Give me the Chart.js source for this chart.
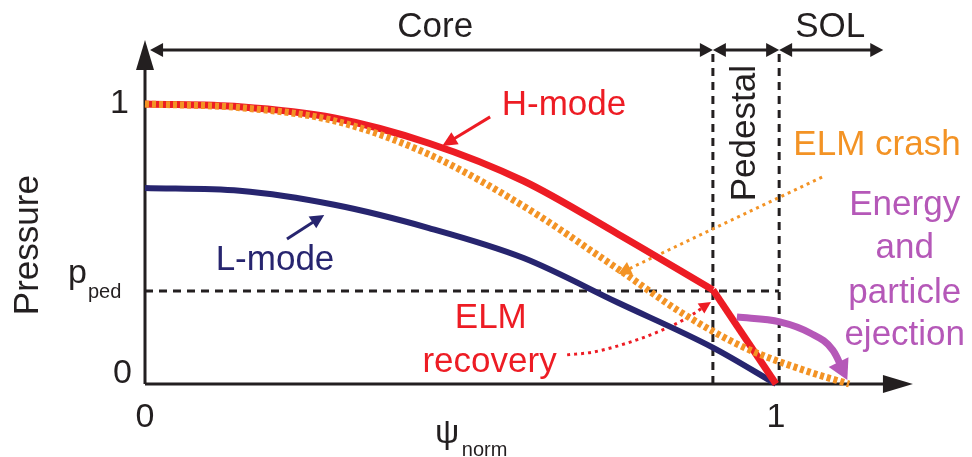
<!DOCTYPE html>
<html><head><meta charset="utf-8">
<script src="https://cdn.jsdelivr.net/npm/chart.js@4.4.0/dist/chart.umd.min.js"></script>
<style>html,body{margin:0;padding:0;background:#fff;}canvas{display:block;}</style>
</head><body>
<canvas id="c" width="972" height="457"></canvas>
<script>
// ---------------- data (normalised flux psi_norm vs normalised pressure) ----------------
const pPed = 0.332;                 // pedestal-top pressure
const pedestalStart = 0.9;          // psi_norm where pedestal begins
const separatrix = 1.005;           // psi_norm of separatrix dashed line
const regionBounds = [0.008, 0.9, 1.005, 1.17];
const regionNames = ['Core', 'Pedestal', 'SOL'];

const hModeCoreX = [0, 0.15, 0.3, 0.45, 0.6, 0.75, 0.9];
const hModeCoreY = [1.0, 0.99, 0.95, 0.86, 0.725, 0.535, 0.336];
const hModePedX = [0.9, 1.0];
const hModePedY = [0.336, 0];

const lModeX = [0, 0.15, 0.3, 0.45, 0.6, 0.75, 0.9, 1.0];
const lModeY = [0.7, 0.69, 0.64, 0.557, 0.45, 0.29, 0.13, 0];

const elmCrashX = [0, 0.15, 0.3, 0.45, 0.6, 0.75, 0.85, 0.95, 1.05, 1.116];
const elmCrashY = [1.0, 0.987, 0.94, 0.82, 0.635, 0.41, 0.255, 0.13, 0.045, 0];

const ejectionX = [0.938, 1.006, 1.054, 1.09, 1.113];
const ejectionY = [0.239, 0.222, 0.182, 0.121, 0.014];

const recoveryX = [0.669, 0.71, 0.764, 0.816, 0.859, 0.897];
const recoveryY = [0.104, 0.114, 0.146, 0.189, 0.236, 0.293];

const crashPointerX = [1.073, 0.75];
const crashPointerY = [0.739, 0.393];
const hPointerX = [0.547, 0.471];
const hPointerY = [0.954, 0.85];
const lPointerX = [0.225, 0.284];
const lPointerY = [0.518, 0.604];

const yTickValues = [0, 1];
const yTickLabels = ['0', '1'];
const xTickValues = [0, 1];
const xTickLabels = ['0', '1'];
const axisTopY = 1.229, axisRightX = 1.217, bracketY = 1.193;

// ---------------- styles ----------------
const INK = '#231f20', RED = '#ed1c24', NAVY = '#27256f', ORANGE = '#f39325', MAG = '#b558b8';
const FONT = "'Liberation Sans', Arial, Helvetica, sans-serif";

const pts = (xs, ys) => xs.map((x, i) => ({x, y: ys[i]}));
const base = {pointRadius: 0, pointHoverRadius: 0, fill: false, clip: false, borderCapStyle: 'butt', borderJoinStyle: 'miter'};

const datasets = [
  // order: lower value drawn on top
  Object.assign({}, base, {label: 'Energy ejection', data: pts(ejectionX, ejectionY), borderColor: MAG, borderWidth: 7, cubicInterpolationMode: 'monotone', order: 1, arrow: {end: [20, 11]}}),
  Object.assign({}, base, {label: 'ELM crash', data: pts(elmCrashX, elmCrashY), borderColor: ORANGE, borderWidth: 7, borderDash: [4, 3], cubicInterpolationMode: 'monotone', order: 2}),
  Object.assign({}, base, {label: 'H-mode core', data: pts(hModeCoreX, hModeCoreY), borderColor: RED, borderWidth: 7, cubicInterpolationMode: 'monotone', order: 3}),
  Object.assign({}, base, {label: 'H-mode pedestal', data: pts(hModePedX, hModePedY), borderColor: RED, borderWidth: 7, tension: 0, order: 3}),
  Object.assign({}, base, {label: 'L-mode', data: pts(lModeX, lModeY), borderColor: NAVY, borderWidth: 6, cubicInterpolationMode: 'monotone', order: 4}),
  Object.assign({}, base, {label: 'ELM recovery pointer', data: pts(recoveryX, recoveryY), borderColor: RED, borderWidth: 3, borderDash: [3, 4], cubicInterpolationMode: 'monotone', order: 5, arrow: {end: [12, 6]}}),
  Object.assign({}, base, {label: 'ELM crash pointer', data: pts(crashPointerX, crashPointerY), borderColor: ORANGE, borderWidth: 3, borderDash: [3, 4], tension: 0, order: 5, arrow: {end: [13, 7]}}),
  Object.assign({}, base, {label: 'H-mode pointer', data: pts(hPointerX, hPointerY), borderColor: RED, borderWidth: 3, tension: 0, order: 5, arrow: {end: [15, 7]}}),
  Object.assign({}, base, {label: 'L-mode pointer', data: pts(lPointerX, lPointerY), borderColor: NAVY, borderWidth: 3, tension: 0, order: 5, arrow: {end: [14, 7]}}),
  Object.assign({}, base, {label: 'p_ped line', data: [{x: 0, y: pPed}, {x: separatrix, y: pPed}], borderColor: INK, borderWidth: 3, borderDash: [8, 6], tension: 0, order: 8}),
  Object.assign({}, base, {label: 'pedestal line', data: [{x: pedestalStart, y: 0}, {x: pedestalStart, y: bracketY}], borderColor: INK, borderWidth: 3, borderDash: [8, 6], tension: 0, order: 8}),
  Object.assign({}, base, {label: 'separatrix line', data: [{x: separatrix, y: 0}, {x: separatrix, y: bracketY}], borderColor: INK, borderWidth: 3, borderDash: [8, 6], tension: 0, order: 8}),
  Object.assign({}, base, {label: 'y axis', data: [{x: 0, y: 0}, {x: 0, y: axisTopY}], borderColor: INK, borderWidth: 3, tension: 0, order: 6, arrow: {end: [30, 9]}}),
  Object.assign({}, base, {label: 'x axis', data: [{x: 0, y: 0}, {x: axisRightX, y: 0}], borderColor: INK, borderWidth: 3, tension: 0, order: 6, arrow: {end: [30, 9]}}),
];
regionNames.forEach((name, i) => {
  datasets.push(Object.assign({}, base, {label: name + ' bracket', data: [{x: regionBounds[i], y: bracketY}, {x: regionBounds[i + 1], y: bracketY}], borderColor: INK, borderWidth: 3, tension: 0, order: 6, arrow: {start: [13, 7], end: [13, 7]}}));
});

// ---------------- text annotations (positions in data units) ----------------
const texts = [
  {t: 'Core', x: 0.46, y: 1.239, c: INK},
  {t: 'SOL', x: 1.086, y: 1.239, c: INK},
  {t: 'Pedestal', x: 0.951, y: 0.896, c: INK, rot: -Math.PI / 2, base: 'middle'},
  {t: 'H-mode', x: 0.664, y: 0.961, c: RED},
  {t: 'L-mode', x: 0.206, y: 0.407, c: NAVY},
  {t: 'ELM crash', x: 1.16, y: 0.818, c: ORANGE},
  {t: 'Energy', x: 1.204, y: 0.604, c: MAG},
  {t: 'and', x: 1.204, y: 0.45, c: MAG},
  {t: 'particle', x: 1.204, y: 0.289, c: MAG},
  {t: 'ejection', x: 1.204, y: 0.139, c: MAG},
  {t: 'ELM', x: 0.548, y: 0.2, c: RED},
  {t: 'recovery', x: 0.546, y: 0.043, c: RED},
  {t: 'Pressure', x: -0.185, y: 0.496, c: INK, rot: -Math.PI / 2, base: 'middle'},
];

const savedPts = new Map();
function dirAt(p, q) {
  let dx = p.x - q.x, dy = p.y - q.y;
  const d = Math.hypot(dx, dy) || 1;
  return [dx / d, dy / d];
}
function tangentEnd(points, last) {
  const p = points[last];
  if (p.cp1x !== undefined && (Math.abs(p.cp1x - p.x) + Math.abs(p.cp1y - p.y)) > 0.5) return dirAt(p, {x: p.cp1x, y: p.cp1y});
  return dirAt(p, points[last - 1]);
}
function tangentStart(points) {
  const p = points[0];
  if (p.cp2x !== undefined && (Math.abs(p.cp2x - p.x) + Math.abs(p.cp2y - p.y)) > 0.5) return dirAt(p, {x: p.cp2x, y: p.cp2y});
  return dirAt(p, points[1]);
}
function drawHead(ctx, tip, dir, len, half, color) {
  const bx = tip.x - dir[0] * len, by = tip.y - dir[1] * len;
  ctx.save();
  ctx.fillStyle = color;
  ctx.beginPath();
  ctx.moveTo(tip.x, tip.y);
  ctx.lineTo(bx - dir[1] * half, by + dir[0] * half);
  ctx.lineTo(bx + dir[1] * half, by - dir[0] * half);
  ctx.closePath();
  ctx.fill();
  ctx.restore();
}

const arrowPlugin = {
  id: 'arrowHeads',
  beforeDatasetDraw(chart, args) {
    const ds = chart.data.datasets[args.index];
    const points = args.meta.data;
    if (!ds.arrow || points.length < 2) return;
    const last = points.length - 1;
    const info = {tips: {}, saved: []};
    if (ds.arrow.end) {
      const p = points[last];
      const dir = tangentEnd(points, last);
      info.tips.end = {tip: {x: p.x, y: p.y}, dir};
      info.saved.push([p, p.x, p.y]);
      p.x -= dir[0] * ds.arrow.end[0] * 0.6; p.y -= dir[1] * ds.arrow.end[0] * 0.6;
    }
    if (ds.arrow.start) {
      const p = points[0];
      const dir = tangentStart(points);
      info.tips.start = {tip: {x: p.x, y: p.y}, dir};
      info.saved.push([p, p.x, p.y]);
      p.x -= dir[0] * ds.arrow.start[0] * 0.6; p.y -= dir[1] * ds.arrow.start[0] * 0.6;
    }
    savedPts.set(args.index, info);
  },
  afterDatasetDraw(chart, args) {
    const info = savedPts.get(args.index);
    if (!info) return;
    const ds = chart.data.datasets[args.index];
    info.saved.forEach(([p, x, y]) => { p.x = x; p.y = y; });
    const ctx = chart.ctx;
    if (info.tips.end) drawHead(ctx, info.tips.end.tip, info.tips.end.dir, ds.arrow.end[0], ds.arrow.end[1], ds.borderColor);
    if (info.tips.start) drawHead(ctx, info.tips.start.tip, info.tips.start.dir, ds.arrow.start[0], ds.arrow.start[1], ds.borderColor);
    savedPts.delete(args.index);
  }
};

const textPlugin = {
  id: 'texts',
  afterDraw(chart) {
    const ctx = chart.ctx, xs = chart.scales.x, ys = chart.scales.y;
    const X = v => xs.getPixelForValue(v), Y = v => ys.getPixelForValue(v);
    ctx.save();
    texts.forEach(o => {
      ctx.save();
      ctx.font = (o.size || 35) + 'px ' + FONT;
      ctx.fillStyle = o.c;
      ctx.textAlign = o.align || 'center';
      ctx.textBaseline = o.base || 'alphabetic';
      ctx.translate(X(o.x), Y(o.y));
      if (o.rot) ctx.rotate(o.rot);
      ctx.fillText(o.t, 0, 0);
      ctx.restore();
    });
    // y tick labels
    ctx.fillStyle = INK;
    ctx.font = '34px ' + FONT;
    ctx.textAlign = 'right';
    ctx.textBaseline = 'middle';
    yTickValues.forEach((v, i) => {
      ctx.fillText(yTickLabels[i], X(0) - (v === 0 ? 13 : 16), Y(v) - (v === 0 ? 10 : 0));
    });
    // p_ped label
    ctx.textAlign = 'left';
    ctx.textBaseline = 'alphabetic';
    ctx.fillText('p', X(0) - 77, Y(pPed) - 8);
    ctx.font = '20px ' + FONT;
    ctx.fillText('ped', X(0) - 57, Y(pPed) + 7);
    // x tick labels
    ctx.font = '34px ' + FONT;
    ctx.textAlign = 'center';
    xTickValues.forEach((v, i) => ctx.fillText(xTickLabels[i], X(v), Y(0) + 43));
    // x axis title psi_norm
    ctx.textAlign = 'left';
    ctx.fillText('\u03C8', X(0.4596), Y(0) + 59);
    ctx.font = '20px ' + FONT;
    ctx.fillText('norm', X(0.502), Y(0) + 72);
    ctx.restore();
  }
};

const chart = new Chart(document.getElementById('c'), {
  type: 'line',
  data: {datasets},
  options: {
    responsive: false,
    animation: false,
    devicePixelRatio: 1,
    layout: {padding: {left: 145, right: 38.25, top: 34, bottom: 73}},
    plugins: {legend: {display: false}, tooltip: {enabled: false}},
    events: [],
    scales: {
      x: {type: 'linear', min: 0, max: 1.25, display: false},
      y: {type: 'linear', min: 0, max: 1.25, display: false}
    }
  },
  plugins: [arrowPlugin, textPlugin]
});
</script>
</body></html>
